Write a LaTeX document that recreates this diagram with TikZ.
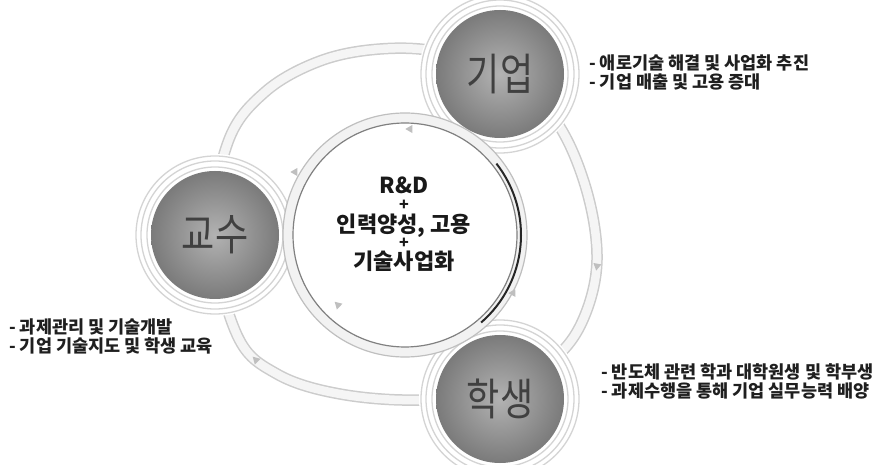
\documentclass[tikz,border=0pt]{standalone}
\usepackage{fontspec}
\setmainfont{Noto Sans CJK KR}
\usetikzlibrary{shapes.geometric}
\begin{document}
\begin{tikzpicture}[x=1pt,y=-1pt,
  noderingline/.style={draw=black!17, line width=1.3pt},
  disk/.style={circle, minimum size=128pt, inner sep=0pt, inner color=black!30, outer color=black!52, text=black!75,
    font=\fontsize{44}{44}\selectfont},
  lbl/.style={anchor=west, inner sep=0pt, text=black!88, font=\bfseries\fontsize{17.5}{19}\selectfont, align=left},
  ctext/.style={inner sep=0pt, text=black!90, font=\bfseries\fontsize{22}{22}\selectfont, text height=15pt, text depth=3pt},
  cplus/.style={inner sep=0pt, text=black!90, font=\bfseries\fontsize{16}{16}\selectfont, text height=8pt, text depth=0pt},
  tri/.style={isosceles triangle, isosceles triangle apex angle=60, fill=black!25, draw=none, inner sep=0pt, minimum height=7pt, minimum width=8pt}]
\useasboundingbox (0,0) rectangle (879,465);
% outer loop
\def\outerloop{plot[smooth cycle, tension=0.6] coordinates {(213,235) (228,142) (265,92) (320,61) (380,49) (440,52) (500,74) (553,117) (585,185) (597,260) (582,322) (550,362) (495,390) (420,400) (340,394) (277,374) (237,335)}}
\draw[black!20, line width=11.5pt] \outerloop;
\draw[black!4, line width=8.5pt] \outerloop;
\node[tri, rotate=-100] (oa1) at (597,266) {};
\node[tri, rotate=135] (oa2) at (256,360) {};
% node ring backgrounds
\coordinate (cg) at (500,74);
\coordinate (cp) at (215,235);
\coordinate (cs) at (500,399);
\foreach \c in {cg,cp,cs}{
  \fill[white] (\c) circle[radius=81];
  \draw[noderingline] (\c) circle[radius=79];
  \draw[noderingline] (\c) circle[radius=74];
  \draw[noderingline] (\c) circle[radius=68];
}
% center ring
\coordinate (cc) at (405,235);
\fill[black!5] (cc) circle[radius=122];
\draw[draw=black!25, line width=1.2pt] (cc) circle[radius=122];
\fill[white] (cc) circle[radius=112];
\draw[draw=black!50, line width=1.2pt] (cc) circle[radius=112];
\draw[black!85, line width=2pt] (cc) ++(-38:116) arc[start angle=-38, end angle=49, radius=116];
\node[tri, rotate=180] (ia1) at (410,129) {};
\node[tri, rotate=60] (ia2) at (295,172) {};
\node[tri, rotate=136] (ia3) at (338,305) {};
\node[tri, rotate=62] (ia4) at (513,293) {};
% nodes
\node[disk] (giup) at (cg) {\scalebox{0.82}[1]{기업}};
\node[disk] (gyosu) at (cp) {\scalebox{0.82}[1]{교수}};
\node[disk] (haksaeng) at (cs) {\scalebox{0.82}[1]{학생}};
% center text
\node[ctext] (c1) at (404,188) {R\&D};
\node[cplus] (c2) at (404,207) {+};
\node[ctext] (c3) at (404,227) {인력양성, 고용};
\node[cplus] (c4) at (404,245) {+};
\node[ctext] (c5) at (404,264) {기술사업화};
% labels
\node[lbl] (lg) at (589,72) {- 애로기술 해결 및 사업화 추진\\- 기업 매출 및 고용 증대};
\node[lbl] (lp) at (9,336) {- 과제관리 및 기술개발\\- 기업 기술지도 및 학생 교육};
\node[lbl] (ls) at (601,381) {- 반도체 관련 학과 대학원생 및 학부생\\- 과제수행을 통해 기업 실무능력 배양};
\end{tikzpicture}
\end{document}
